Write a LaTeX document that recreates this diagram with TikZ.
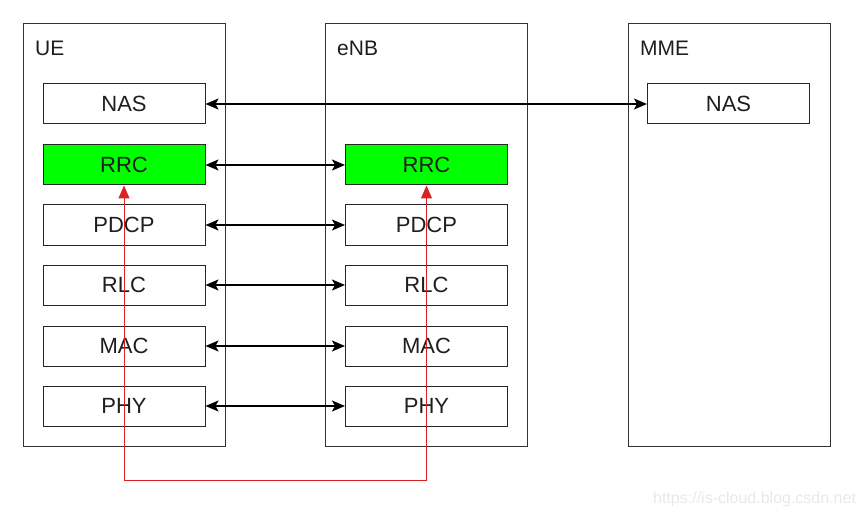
\documentclass[tikz,border=0pt]{standalone}
\usepackage{fontspec}
\setmainfont{Liberation Sans}
\usetikzlibrary{arrows.meta}
\definecolor{txt}{RGB}{30,30,30}
\definecolor{rrcgreen}{RGB}{0,255,0}
\definecolor{sigred}{RGB}{215,35,35}
\definecolor{wm}{RGB}{232,232,232}
\tikzset{
  outerbox/.style={draw=black!80, line width=1pt, minimum width=202pt, minimum height=422pt, inner sep=0pt},
  layerbox/.style={draw=black!85, line width=1pt, fill=white, minimum width=162pt, minimum height=40pt, inner sep=0pt,
    text=txt, font=\fontsize{22}{26}\selectfont},
  rrcbox/.style={layerbox, fill=rrcgreen},
  ttl/.style={anchor=base west, inner sep=0pt, text=txt, font=\fontsize{21}{25}\selectfont},
  peer/.style={line width=1.4pt, black, {Stealth[length=13pt,width=11pt,inset=3pt]}-{Stealth[length=13pt,width=11pt,inset=3pt]}},
  sig/.style={line width=1pt, sigred, {Triangle[length=13pt,width=11pt]}-{Triangle[length=13pt,width=11pt]}},
}
\begin{document}
\begin{tikzpicture}[x=1pt,y=-1pt]
\useasboundingbox (0,0) rectangle (868,516);
% outer entities
\node[outerbox] (ue)  at (124,235) {};
\node[outerbox] (enb) at (426,235) {};
\node[outerbox] (mme) at (729,235) {};
\node[ttl] (uet)  at (35,56) {UE};
\node[ttl] (enbt) at (337,56) {eNB};
\node[ttl] (mmet) at (640,56) {MME};
% UE stack
\node[layerbox] (ueNAS)  at (124,104) {NAS};
\node[rrcbox]   (ueRRC)  at (124,165) {RRC};
\node[layerbox] (uePDCP) at (124,225) {PDCP};
\node[layerbox] (ueRLC)  at (124,285) {RLC};
\node[layerbox] (ueMAC)  at (124,346) {MAC};
\node[layerbox] (uePHY)  at (124,406) {PHY};
% eNB stack
\node[rrcbox]   (enbRRC)  at (426.5,165) {RRC};
\node[layerbox] (enbPDCP) at (426.5,225) {PDCP};
\node[layerbox] (enbRLC)  at (426.5,285) {RLC};
\node[layerbox] (enbMAC)  at (426.5,346) {MAC};
\node[layerbox] (enbPHY)  at (426.5,406) {PHY};
% MME stack
\node[layerbox] (mmeNAS) at (728.5,104) {NAS};
% peer arrows
\draw[peer] (ueNAS.east) -- (mmeNAS.west);
\draw[peer] (ueRRC.east) -- (enbRRC.west);
\draw[peer] (uePDCP.east) -- (enbPDCP.west);
\draw[peer] (ueRLC.east) -- (enbRLC.west);
\draw[peer] (ueMAC.east) -- (enbMAC.west);
\draw[peer] (uePHY.east) -- (enbPHY.west);
% red signalling path
\coordinate (bot) at (0,480);
\draw[sig] (ueRRC.south) -- (ueRRC.south |- bot) -- (enbRRC.south |- bot) -- (enbRRC.south);
% watermark
\node[anchor=base west, inner sep=0pt, text=wm, font=\fontsize{16}{19}\selectfont] (wmark) at (653,503) {https://is-cloud.blog.csdn.net};
\end{tikzpicture}
\end{document}
